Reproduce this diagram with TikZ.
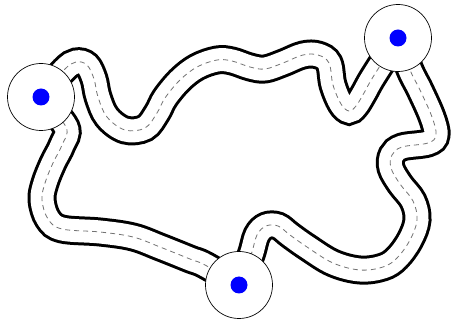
\documentclass[tikz,border=0pt]{standalone}
\begin{document}
\begin{tikzpicture}[x=1pt,y=-1pt,
  city/.style={circle,draw=black,line width=0.7pt,fill=white,minimum size=67pt,inner sep=0pt},
  dot/.style={circle,fill=blue,minimum size=17pt,inner sep=0pt},
  roadbase/.style={line width=29pt,black},
  roadtop/.style={line width=23pt,white},
  roadmark/.style={line width=0.8pt,black!55,dash pattern=on 5pt off 4pt}]
\useasboundingbox (0,0) rectangle (453,320);
\coordinate (A) at (41,97);
\coordinate (B) at (398,38);
\coordinate (C) at (239,285);
\def\segAB{(A) (64,70) (76,62) (87,65) (94,79) (98,97) (107,117) (125,130) (145,128) (157,113) (165,98) (180,80) (197,67) (217,60) (232,61) (250,67) (265,69) (283,63) (303,55) (318,55) (329,63) (333,85) (341,104) (349,111) (356,106) (364,93) (373,77) (B)}
\def\segBC{(B) (410,70) (420,90) (432,117) (436,135) (428,143) (402,147) (392,155) (391,168) (400,184) (413,201) (417,220) (410,240) (397,258) (383,267) (360,270) (333,263) (307,247) (290,235) (278,226) (266,226) (257,235) (251,255) (C)}
\def\segCA{(C) (205,265) (190,259) (160,247) (133,237) (100,232) (62,229) (48,219) (42,200) (45,183) (53,163) (62,145) (66,127) (A)}
\foreach \s in {roadbase,roadtop,roadmark}{
  \draw[\s] plot[smooth,tension=0.6] coordinates {\segAB};
  \draw[\s] plot[smooth,tension=0.6] coordinates {\segBC};
  \draw[\s] plot[smooth,tension=0.6] coordinates {\segCA};
}
\node[city] (nA) at (A) {};
\node[city] (nB) at (B) {};
\node[city] (nC) at (C) {};
\node[dot] (dA) at (nA) {};
\node[dot] (dB) at (nB) {};
\node[dot] (dC) at (nC) {};
\end{tikzpicture}
\end{document}
